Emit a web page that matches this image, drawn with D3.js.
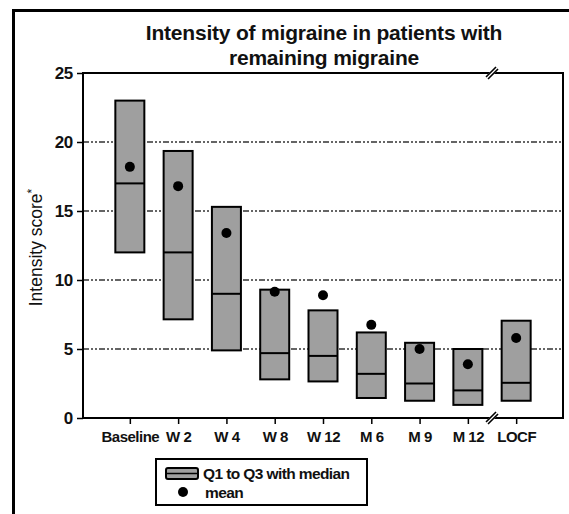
<!DOCTYPE html>
<html>
<head>
<meta charset="utf-8">
<script src="https://cdn.jsdelivr.net/npm/d3@7"></script>
<style>
  body { margin: 0; background: #fff; }
  svg { display: block; font-family: "Liberation Sans", Arial, sans-serif; }
</style>
</head>
<body>
<div class="box"></div>
<script>
// données
const categories = ['Baseline', 'W 2', 'W 4', 'W 8', 'W 12', 'M 6', 'M 9', 'M 12', 'LOCF'];
const q1 = [12.0, 7.15, 4.9, 2.8, 2.65, 1.45, 1.25, 0.95, 1.25];
const medianes = [17.0, 12.0, 9.0, 4.7, 4.5, 3.2, 2.5, 2.0, 2.55];
const q3 = [23.0, 19.35, 15.3, 9.3, 7.8, 6.2, 5.45, 5.0, 7.05];
const moyennes = [18.2, 16.8, 13.4, 9.15, 8.9, 6.75, 5.0, 3.9, 5.8];
const yTicks = [0, 5, 10, 15, 20, 25];

const donnee = categories.map((c, i) => ({cat: c, q1: q1[i], med: medianes[i], q3: q3[i], moy: moyennes[i]}));

const dims = {width: 569, height: 514};
const plot = {left: 83, right: 563, top: 73, bottom: 418};

const svg = d3.select('.box')
              .append('svg')
              .attr('width', dims.width)
              .attr('height', dims.height);

// cadre extérieur
svg.append('path')
   .attr('d', `M13.5,${dims.height + 5} V10.5 H${dims.width + 5}`)
   .attr('fill', 'none')
   .attr('stroke', '#000')
   .attr('stroke-width', 3);

// échelles
const x = d3.scalePoint()
            .domain(categories)
            .range([plot.left, plot.right])
            .padding(0.97);

const y = d3.scaleLinear()
            .domain([0, 25])
            .range([plot.bottom, plot.top]);

// titre
const titre = svg.append('text')
                 .attr('text-anchor', 'middle')
                 .attr('font-weight', 'bold')
                 .attr('font-size', 21)
                 .attr('letter-spacing', -0.2)
                 .attr('fill', '#111');
titre.append('tspan').attr('x', 324).attr('y', 40).text('Intensity of migraine in patients with');
titre.append('tspan').attr('x', 324).attr('y', 65).text('remaining migraine');

// lignes de grille
svg.append('g')
   .selectAll('line')
   .data(yTicks.filter(t => t > 0 && t < 25))
   .enter()
   .append('line')
   .attr('x1', plot.left)
   .attr('x2', plot.right)
   .attr('y1', d => y(d))
   .attr('y2', d => y(d))
   .attr('stroke', '#333')
   .attr('stroke-width', 1.6)
   .attr('stroke-dasharray', '6,2,2,2,2,2');

// cadre du graphique
svg.append('rect')
   .attr('x', plot.left)
   .attr('y', plot.top)
   .attr('width', plot.right - plot.left)
   .attr('height', plot.bottom - plot.top)
   .attr('fill', 'none')
   .attr('stroke', '#000')
   .attr('stroke-width', 2);

// axe y
const axeY = svg.append('g')
                .attr('transform', `translate(${plot.left},0)`)
                .call(d3.axisLeft(y).tickValues(yTicks).tickSize(6).tickPadding(4));
axeY.select('.domain').remove();
axeY.selectAll('line').attr('stroke', '#000').attr('stroke-width', 1.5);
axeY.selectAll('text')
    .attr('font-family', '"Liberation Sans", Arial, sans-serif')
    .attr('font-size', 17)
    .attr('font-weight', 'bold')
    .attr('letter-spacing', -0.3)
    .attr('fill', '#111');

// axe x
const axeX = svg.append('g')
                .attr('transform', `translate(0,${plot.bottom})`)
                .call(d3.axisBottom(x).tickSize(6).tickPadding(7));
axeX.select('.domain').remove();
axeX.selectAll('line').attr('stroke', '#000').attr('stroke-width', 1.5);
axeX.selectAll('text')
    .attr('font-family', '"Liberation Sans", Arial, sans-serif')
    .attr('font-size', 15)
    .attr('font-weight', 'bold')
    .attr('letter-spacing', -0.5)
    .attr('fill', '#111');

// titre de l'axe y
svg.append('text')
   .attr('transform', `translate(42,${(plot.top + plot.bottom) / 2 + 2}) rotate(-90)`)
   .attr('text-anchor', 'middle')
   .attr('font-size', 17.5)
   .attr('fill', '#111')
   .text('Intensity score')
   .append('tspan')
   .attr('dy', -6)
   .attr('font-size', 12)
   .text('*');

// boîtes
const larg = 29;
const boites = svg.append('g')
                  .selectAll('g')
                  .data(donnee)
                  .enter()
                  .append('g');

boites.append('rect')
      .attr('x', d => x(d.cat) - larg / 2)
      .attr('y', d => y(d.q3))
      .attr('width', larg)
      .attr('height', d => y(d.q1) - y(d.q3))
      .attr('fill', '#9f9f9f')
      .attr('stroke', '#000')
      .attr('stroke-width', 2);

boites.append('line')
      .attr('x1', d => x(d.cat) - larg / 2)
      .attr('x2', d => x(d.cat) + larg / 2)
      .attr('y1', d => y(d.med))
      .attr('y2', d => y(d.med))
      .attr('stroke', '#000')
      .attr('stroke-width', 2);

boites.append('circle')
      .attr('cx', d => x(d.cat))
      .attr('cy', d => y(d.moy))
      .attr('r', 5)
      .attr('fill', '#000');

// coupures d'axe entre M 12 et LOCF
const xCoupe = (x('M 12') + x('LOCF')) / 2;
[plot.top, plot.bottom].forEach(yc => {
    const g = svg.append('g').attr('transform', `translate(${xCoupe},${yc})`);
    g.append('path')
     .attr('d', 'M-5,5 L5,-5')
     .attr('stroke', '#fff')
     .attr('stroke-width', 4);
    g.append('path')
     .attr('d', 'M-6,4 L4,-6 M-4,6 L6,-4')
     .attr('stroke', '#000')
     .attr('stroke-width', 1.6);
});

// légende
const leg = svg.append('g').attr('transform', 'translate(156,459)');
leg.append('rect')
   .attr('width', 211)
   .attr('height', 46)
   .attr('fill', '#fff')
   .attr('stroke', '#000')
   .attr('stroke-width', 2);
leg.append('rect')
   .attr('x', 10)
   .attr('y', 9)
   .attr('width', 32)
   .attr('height', 11)
   .attr('rx', 2)
   .attr('fill', '#9f9f9f')
   .attr('stroke', '#000')
   .attr('stroke-width', 2);
leg.append('line')
   .attr('x1', 10).attr('x2', 42)
   .attr('y1', 14.5).attr('y2', 14.5)
   .attr('stroke', '#000')
   .attr('stroke-width', 1.5);
leg.append('circle')
   .attr('cx', 27)
   .attr('cy', 33)
   .attr('r', 5)
   .attr('fill', '#000');
leg.append('text')
   .attr('x', 47).attr('y', 20)
   .attr('font-size', 15.5).attr('font-weight', 'bold')
   .attr('letter-spacing', -0.6)
   .attr('fill', '#111')
   .text('Q1 to Q3 with median');
leg.append('text')
   .attr('x', 49).attr('y', 39)
   .attr('font-size', 15.5).attr('font-weight', 'bold')
   .attr('letter-spacing', -0.6)
   .attr('fill', '#111')
   .text('mean');
</script>
</body>
</html>
